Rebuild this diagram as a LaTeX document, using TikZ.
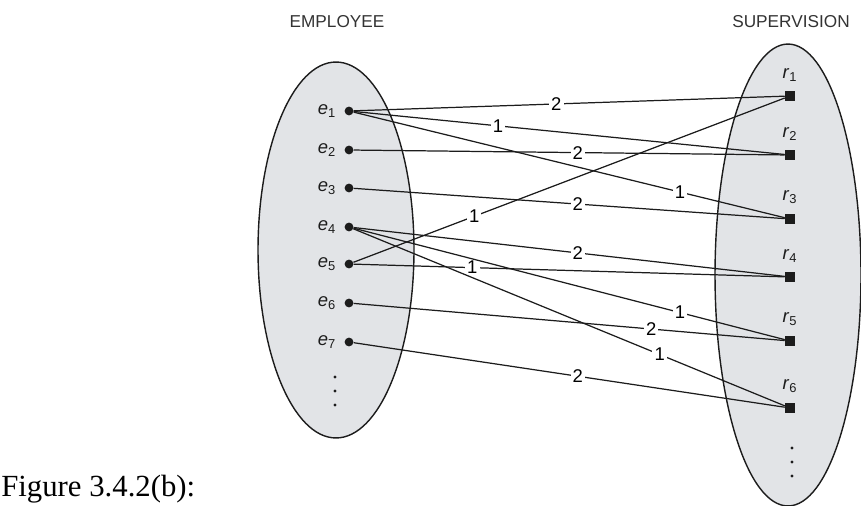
\documentclass[tikz,border=0pt]{standalone}
\usepackage{fontspec}
\setmainfont{Liberation Serif}
\setsansfont{Liberation Sans}
\usepackage{tikz}
\usetikzlibrary{positioning}
\definecolor{ink}{HTML}{1C1C1C}
\definecolor{headc}{HTML}{333333}
\definecolor{setfill}{HTML}{E2E4E7}
\tikzset{
  setell/.style={draw=ink, fill=setfill, line width=0.8pt},
  ent/.style={circle, fill=ink, inner sep=0pt, minimum size=5pt},
  rel/.style={rectangle, fill=ink, inner sep=0pt, minimum size=5.6pt},
  vdot/.style={circle, fill=ink, inner sep=0pt, minimum size=1.8pt},
  lnk/.style={draw=ink, line width=0.7pt},
  card/.style={fill=white, inner sep=1.2pt, font=\sffamily\fontsize{10.5}{12}\selectfont},
  elab/.style={font=\sffamily\fontsize{10.5}{12}\selectfont, text=ink},
  head/.style={font=\sffamily\fontsize{9.8}{12}\selectfont, text=headc},
}

\begin{document}
\begin{tikzpicture}[x=0.02cm, y=-0.02cm]
  \useasboundingbox (0,0) rectangle (861,506);
  % the two sets
  \draw[setell] (336,250) ellipse [x radius=1.56cm, y radius=3.76cm];
  \draw[setell] (788,275) ellipse [x radius=1.46cm, y radius=4.62cm];
  \node[head] (emp) at (337,22) {EMPLOYEE};
  \node[head] (sup) at (791,22) {SUPERVISION};
  % employees
  \foreach \i/\y in {1/111,2/150,3/188,4/227,5/264,6/303,7/342}
    \node[ent, label={[elab, label distance=1pt]left:\textit{e}\textsubscript{\i}}] (e\i) at (349,\y) {};
  \foreach \y in {377,391,405}
    \node[vdot] (ed\y) at (335,\y) {};
  % relationship instances
  \foreach \i/\y in {1/96,2/155,3/219,4/277,5/341,6/408}
    \node[rel, label={[elab, label distance=2pt]above:\textit{r}\textsubscript{\i}}] (r\i) at (790,\y) {};
  \foreach \y in {448,462,476}
    \node[vdot] (rd\y) at (792,\y) {};
  % supervisor / supervisee links
  \draw[lnk] (e1) -- node[card, pos=0.47] {2} (r1);
  \draw[lnk] (e1) -- node[card, pos=0.335] {1} (r2);
  \draw[lnk] (e1) -- node[card, pos=0.757] {1} (r3);
  \draw[lnk] (e2) -- node[card, pos=0.52] {2} (r2);
  \draw[lnk] (e3) -- node[card, pos=0.52] {2} (r3);
  \draw[lnk] (e5) -- node[card, pos=0.28] {1} (r1);
  \draw[lnk] (e4) -- node[card, pos=0.52] {2} (r4);
  \draw[lnk] (e5) -- node[card, pos=0.275] {1} (r4);
  \draw[lnk] (e4) -- node[card, pos=0.757] {1} (r5);
  \draw[lnk] (e6) -- node[card, pos=0.69] {2} (r5);
  \draw[lnk] (e4) -- node[card, pos=0.71] {1} (r6);
  \draw[lnk] (e7) -- node[card, pos=0.52] {2} (r6);
  \node[anchor=base west, font=\rmfamily\fontsize{17.5}{20}\selectfont, inner sep=0pt] (cap) at (1,496) {Figure 3.4.2(b):};
\end{tikzpicture}
\end{document}
